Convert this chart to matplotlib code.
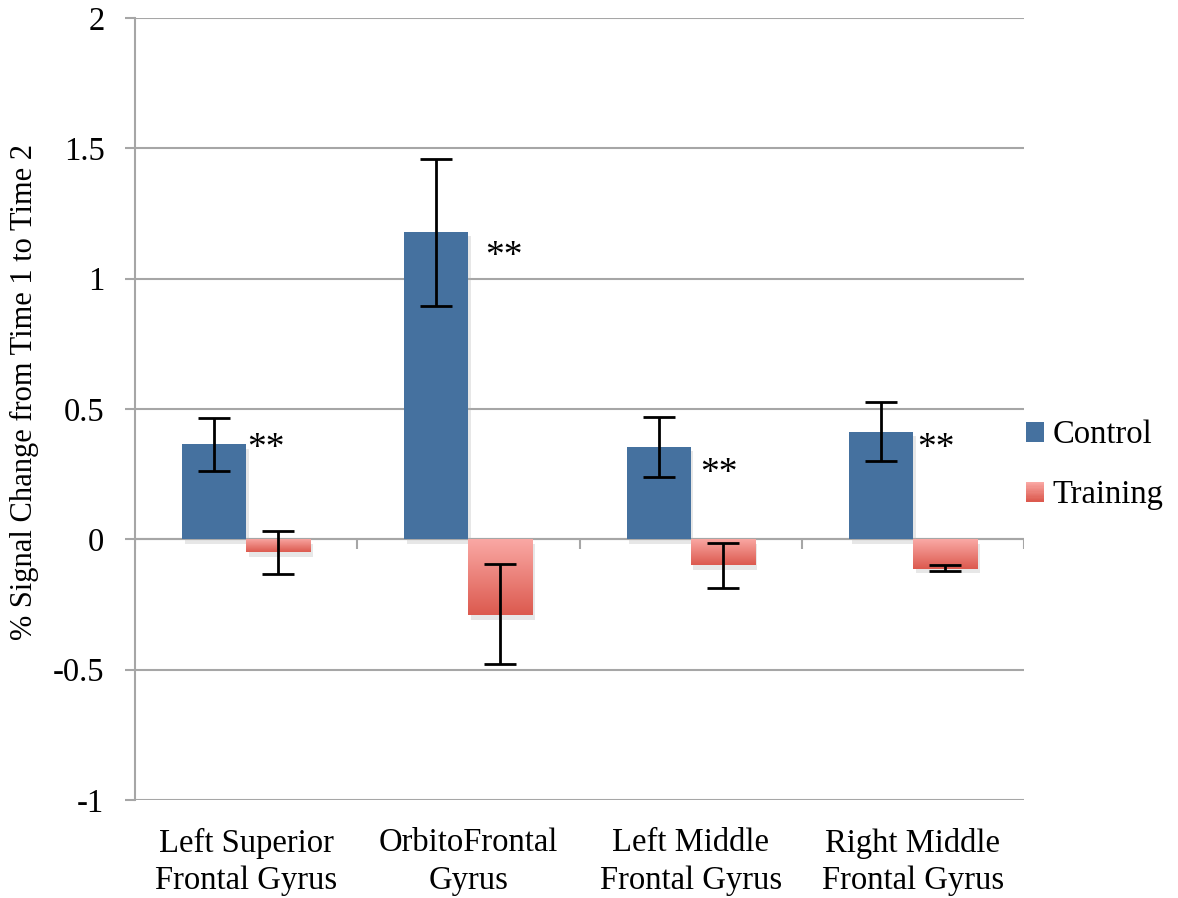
import numpy as np
import matplotlib
matplotlib.use('Agg')
import matplotlib.pyplot as plt
from matplotlib.patches import Rectangle, Patch
from matplotlib.colors import LinearSegmentedColormap
from matplotlib.legend_handler import HandlerBase
import matplotlib.patheffects as pe

plt.rcParams['font.family'] = ['Liberation Serif', 'DejaVu Serif']

regions = ['Left Superior\nFrontal Gyrus', 'OrbitoFrontal\nGyrus',
           'Left Middle\nFrontal Gyrus', 'Right Middle\nFrontal Gyrus']
control = [0.364, 1.179, 0.353, 0.412]
control_lo = [0.264, 0.897, 0.240, 0.299]
control_hi = [0.466, 1.460, 0.471, 0.528]
training = [-0.050, -0.292, -0.100, -0.113]
training_lo = [-0.134, -0.480, -0.186, -0.122]
training_hi = [0.033, -0.096, -0.014, -0.100]
stars = ['**', '**', '**', '**']

# where the significance marks sit (x offset from category, y top)
star_dx = [0.004, 0.075, 0.045, 0.02]
star_top = [0.415, 1.15, 0.318, 0.415]

blue = '#45719F'
pink = LinearSegmentedColormap.from_list('pink', ['#FAA9A5', '#DC5A4F'])
grid_c = '#A6A6A6'
fs = 23.5

fig = plt.figure(figsize=(11.78, 8.98), dpi=100)
ax = fig.add_axes([0.1146, 0.1091, 0.7547, 0.8709])

x = np.arange(len(regions))
w = 0.288
shade = dict(offset=(2, -3), shadow_rgbFace='#B0B0B0', alpha=0.3)

cbars = ax.bar(x - w / 2, control, w, color=blue, zorder=3)
tbars = ax.bar(x + w / 2, training, w, color='none', zorder=3)
for b in cbars:
    b.set_path_effects([pe.SimplePatchShadow(**shade), pe.Normal()])
for b in tbars:
    b.set_path_effects([pe.SimplePatchShadow(**shade)])
    x0, y0 = b.get_x(), b.get_y()
    bw, bh = b.get_width(), b.get_height()
    top, bot = max(y0, y0 + bh), min(y0, y0 + bh)
    grad = np.linspace(0, 1, 100).reshape(-1, 1)
    im = ax.imshow(grad, cmap=pink, aspect='auto', extent=(x0, x0 + bw, bot, top),
                   origin='upper', zorder=3, interpolation='bicubic')
    im.set_clip_path(b)

c_err = [np.subtract(control, control_lo), np.subtract(control_hi, control)]
t_err = [np.subtract(training, training_lo), np.subtract(training_hi, training)]
ax.errorbar(x - w / 2, control, yerr=c_err, fmt='none', ecolor='black',
            elinewidth=2, capsize=11.5, capthick=2, zorder=4)
ax.errorbar(x + w / 2, training, yerr=t_err, fmt='none', ecolor='black',
            elinewidth=2, capsize=11.5, capthick=2, zorder=4)

for i, s in enumerate(stars):
    ax.text(x[i] + star_dx[i], star_top[i], s, fontsize=27, ha='left', va='top', zorder=5)

ax.set_xlim(-0.5, 3.5)
ax.set_ylim(-1, 2)
yt = [-1, -0.5, 0, 0.5, 1, 1.5, 2]
ax.set_yticks(yt, ['-1', '-0.5', '0', '0.5', '1', '1.5', '2'])
ax.set_xticks(x, regions)
ax.tick_params(axis='y', length=7, width=1.5, color=grid_c, pad=15, labelsize=fs)
ax.tick_params(axis='x', length=0, pad=20, labelsize=fs)
for lab in ax.get_xticklabels():
    lab.set_linespacing(1.3)

ax.yaxis.grid(True, color=grid_c, linewidth=1.5, zorder=0)
ax.set_axisbelow(True)
for side in ['top', 'right', 'bottom']:
    ax.spines[side].set_visible(False)
ax.spines['left'].set_color(grid_c)
ax.spines['left'].set_linewidth(1.5)

# category axis crossing at zero with its tick marks
ax.axhline(0, color=grid_c, linewidth=1.5, zorder=1)
ax.vlines(np.arange(-0.5, 4, 1), -0.038, 0, color=grid_c, linewidth=1.5, zorder=1)

ax.set_ylabel('% Signal Change from Time 1 to Time 2', fontsize=22)
ax.yaxis.set_label_coords(-0.108, 0.522)


class GradientHandler(HandlerBase):
    def create_artists(self, legend, orig_handle, xdescent, ydescent, width, height, fontsize, trans):
        n = 16
        out = []
        for k in range(n):
            r = Rectangle((-xdescent, -ydescent + height * (n - 1 - k) / n), width, height / n + 0.3,
                          facecolor=pink(k / (n - 1)), edgecolor='none', transform=trans)
            out.append(r)
        return out


h_control = Patch(facecolor=blue, edgecolor='none')
h_training = Patch(facecolor='#EC8580')
fig.legend([h_control, h_training], ['Control', 'Training'],
           handler_map={h_training: GradientHandler()},
           loc='center left', bbox_to_anchor=(0.871, 0.482), frameon=False,
           fontsize=fs, handlelength=0.55, handleheight=0.55, handletextpad=0.25,
           labelspacing=0.9, borderpad=0, borderaxespad=0)

fig.savefig('out.png', dpi=100)
